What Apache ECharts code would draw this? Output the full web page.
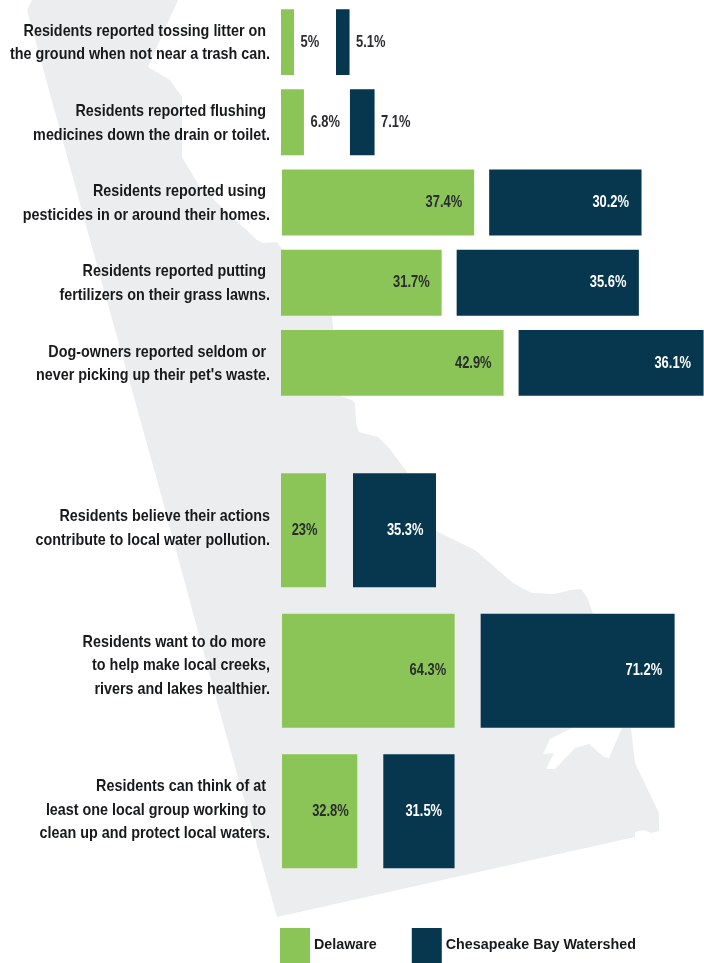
<!DOCTYPE html>
<html>
<head>
<meta charset="utf-8">
<style>html,body{margin:0;padding:0;background:#fff}#c{width:704px;height:963px}</style>
<script src="https://cdn.jsdelivr.net/npm/echarts@6/dist/echarts.min.js"></script>
</head>
<body>
<div id="c"></div>
<script>
const categoriesTop = [
  "Residents reported tossing litter on \nthe ground when not near a trash can.",
  "Residents reported flushing \nmedicines down the drain or toilet.",
  "Residents reported using \npesticides in or around their homes.",
  "Residents reported putting \nfertilizers on their grass lawns.",
  "Dog-owners reported seldom or \nnever picking up their pet's waste."
];
const delawareTop = [5, 6.8, 37.4, 31.7, 42.9];
const watershedTop = [5.1, 7.1, 30.2, 35.6, 36.1];
const categoriesBottom = [
  "Residents believe their actions\ncontribute to local water pollution.",
  "Residents want to do more \nto help make local creeks,\nrivers and lakes healthier.",
  "Residents can think of at \nleast one local group working to \nclean up and protect local waters."
];
const delawareBottom = [23, 64.3, 32.8];
const watershedBottom = [35.3, 71.2, 31.5];

const GREEN = '#8BC558', NAVY = '#06374F', INK = '#17191b', SHAPE = '#ECEDEF', LABEL_DARK = '#2a2c2e';
const FONT = '"Liberation Sans",sans-serif';
const axisTop = {min: 2.65, max: 79.14};
const axisBottom = {min: 8.44, max: 145.3};
const TEXT_SQUEEZE = 0.87, VALUE_SQUEEZE = 0.76;

function fmt(v){ return v + '%'; }

function barShape(api, axisMin, startX, ratio, fill, labelFill, inset){
  const v = api.value(0), i = api.value(1);
  const x0 = api.coord([axisMin, i])[0];
  const x1 = api.coord([v, i])[0];
  const cy = api.coord([v, i])[1];
  const w = x1 - x0;
  const h = api.size([0, 1])[1] * ratio;
  const left = startX;
  const outside = w < 30;
  return [
    {type: 'rect', shape: {x: left, y: cy - h / 2, width: w, height: h}, style: {fill: fill}},
    {type: 'text', x: outside ? left + w + 6.5 : left + w - inset, y: cy, scaleX: VALUE_SQUEEZE,
     style: {text: fmt(v), align: outside ? 'left' : 'right', verticalAlign: 'middle',
             fontFamily: FONT, fontWeight: 'bold', fontSize: 17,
             fill: outside ? LABEL_DARK : labelFill}}
  ];
}

function delawareRender(axisMin, ratio, cats, inset, shifts, nudges){
  return function(params, api){
    const i = api.value(1);
    const p = api.coord([axisMin, i]);
    const kids = barShape(api, axisMin, p[0] + nudges[i], ratio, GREEN, LABEL_DARK, inset);
    kids.push({type: 'text', x: p[0] - 11, y: p[1] + shifts[i], scaleX: TEXT_SQUEEZE,
      style: {text: cats[i], align: 'right', verticalAlign: 'middle', lineHeight: 23.5,
              fontFamily: FONT, fontWeight: 'bold', fontSize: 16.5, fill: INK}});
    return {type: 'group', children: kids};
  };
}
function watershedRender(axisMin, ratio, gaps, nudges){
  return function(params, api){
    const i = api.value(1);
    const dEnd = api.coord([api.value(2), i])[0] + nudges[i];
    return {type: 'group', children: barShape(api, axisMin, dEnd + gaps[i], ratio, NAVY, '#ffffff', 12.5)};
  };
}

function rows(a, other){ return a.map((v, i) => other ? [v, i, other[i]] : [v, i]); }

const silhouette = [
 [32,0],[178,0],[148,67],[170,80],[182,97],[182,157],[200,187],[257,240],[263,243],[277,242],
 [332,317],[340,396],[352,400],[355,403],[356,423],[359,432],[378,437],[389,448],[407,472],
 [436,531],[475,550],[513,583],[532,593],[555,594],[570,590],[581,589],[587,597],[593,614],
 [600,640],[572,728],[550,739],[543,754],[554,753],[546,769],[555,769],[575,748],[589,744],
 [604,757],[609,758],[622,728],[631,728],[635,763],[659,813],[659,831],[651,833],[644,830],
 [635,832],[635,837],[277,917],[222,720],[157,480],[90,240],[27,10]
];

const gapsTop = [42, 46, 15, 15, 15];
const gapsBottom = [27, 26, 26];
const shiftsTop = [1, 1, 1, 1, 1];
const shiftsBottom = [-2, -5, -1];
const nudgesTop = [0, 0, 1, 0, 0];
const nudgesBottom = [0, 1, 1];

const hiddenBand = {axisLine: {show: false}, axisTick: {show: false}, axisLabel: {show: false}};

const chart = echarts.init(document.getElementById('c'), null, {renderer: 'canvas'});
chart.setOption({
  animation: false,
  backgroundColor: '#fff',
  graphic: {elements: [{
    type: 'polygon', z: -10, silent: true,
    shape: {points: silhouette}, style: {fill: SHAPE}
  }]},
  grid: [
    {left: 281, right: 0, top: 2, height: 401, outerBoundsMode: 'none'},
    {left: 281, right: 0, top: 460, height: 421.5, outerBoundsMode: 'none'}
  ],
  xAxis: [
    {gridIndex: 0, type: 'value', min: axisTop.min, max: axisTop.max, show: false},
    {gridIndex: 1, type: 'value', min: axisBottom.min, max: axisBottom.max, show: false}
  ],
  yAxis: [
    Object.assign({gridIndex: 0, type: 'category', inverse: true, data: categoriesTop}, hiddenBand),
    Object.assign({gridIndex: 1, type: 'category', inverse: true, data: categoriesBottom}, hiddenBand)
  ],
  legend: {
    left: 280, top: 928, padding: 0, itemWidth: 30, itemHeight: 35, itemGap: 35, icon: 'rect',
    data: ['Delaware', 'Chesapeake Bay Watershed'],
    textStyle: {fontFamily: FONT, fontWeight: 'bold', fontSize: 14.3, color: INK, padding: [12, 0, 0, -1]}
  },
  series: [
    {type: 'custom', name: 'Delaware', xAxisIndex: 0, yAxisIndex: 0, itemStyle: {color: GREEN},
     encode: {x: 0, y: 1}, data: rows(delawareTop), clip: false,
     renderItem: delawareRender(axisTop.min, 0.822, categoriesTop, 12, shiftsTop, nudgesTop)},
    {type: 'custom', name: 'Chesapeake Bay Watershed', xAxisIndex: 0, yAxisIndex: 0, itemStyle: {color: NAVY},
     encode: {x: 0, y: 1}, data: rows(watershedTop, delawareTop), clip: false,
     renderItem: watershedRender(axisTop.min, 0.822, gapsTop, nudgesTop)},
    {type: 'custom', name: 'Delaware', xAxisIndex: 1, yAxisIndex: 1, itemStyle: {color: GREEN},
     encode: {x: 0, y: 1}, data: rows(delawareBottom), clip: false,
     renderItem: delawareRender(axisBottom.min, 0.811, categoriesBottom, 8.5, shiftsBottom, nudgesBottom)},
    {type: 'custom', name: 'Chesapeake Bay Watershed', xAxisIndex: 1, yAxisIndex: 1, itemStyle: {color: NAVY},
     encode: {x: 0, y: 1}, data: rows(watershedBottom, delawareBottom), clip: false,
     renderItem: watershedRender(axisBottom.min, 0.811, gapsBottom, nudgesBottom)}
  ]
});
</script>
</body>
</html>
